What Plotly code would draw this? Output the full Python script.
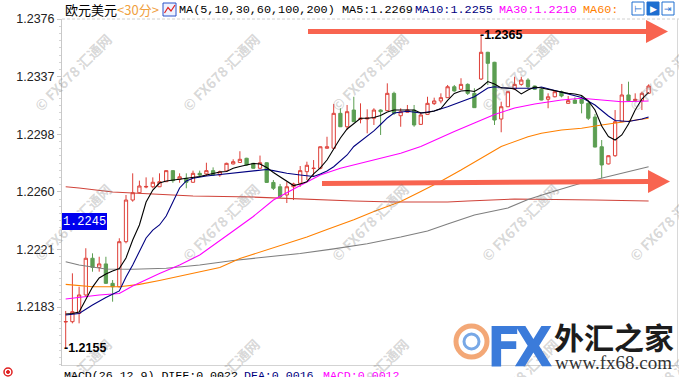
import math
import plotly.graph_objects as go

# ---------------- data (EUR/USD 30-min candles) ----------------
opens = [1.21730,1.21732,1.21788,1.21911,1.22157,1.22096,1.22119,1.21989,1.21966,1.22268,
         1.22547,1.22596,1.22634,1.22636,1.22636,1.22670,1.22744,1.22686,1.22693,1.22666,
         1.22726,1.22722,1.22744,1.22715,1.22742,1.22789,1.22799,1.22827,1.22793,1.22760,
         1.22797,1.22665,1.22636,1.22581,1.22636,1.22659,1.22737,1.22758,1.22760,1.22894,
         1.22894,1.23128,1.23038,1.23150,1.23088,1.23090,1.23095,1.23150,1.23146,1.23262,
         1.23112,1.23135,1.23150,1.23054,1.23121,1.23193,1.23211,1.23233,1.23306,1.23289,
         1.23322,1.23262,1.23358,1.23537,1.23470,1.23090,1.23172,1.23291,1.23322,1.23351,
         1.23311,1.23289,1.23222,1.23239,1.23273,1.23195,1.23217,1.23222,1.23195,1.23103,
         1.22904,1.22789,1.22844,1.23072,1.23251,1.23213,1.23213,1.23262]
highs = [1.21804,1.22056,1.21966,1.22224,1.22190,1.22167,1.22167,1.22011,1.22291,1.22581,
         1.22726,1.22677,1.22699,1.22699,1.22726,1.22746,1.22746,1.22726,1.22726,1.22744,
         1.22744,1.22797,1.22766,1.22744,1.22797,1.22820,1.22874,1.22830,1.22796,1.22845,
         1.22800,1.22681,1.22655,1.22668,1.22663,1.22775,1.22804,1.22815,1.22906,1.22971,
         1.23191,1.23162,1.23184,1.23239,1.23195,1.23155,1.23162,1.23155,1.23329,1.23273,
         1.23162,1.23184,1.23184,1.23135,1.23239,1.23233,1.23262,1.23318,1.23318,1.23363,
         1.23329,1.23296,1.23653,1.23540,1.23473,1.23206,1.23275,1.23373,1.23373,1.23363,
         1.23313,1.23296,1.23262,1.23284,1.23280,1.23244,1.23235,1.23244,1.23206,1.23124,
         1.22949,1.22846,1.23150,1.23325,1.23340,1.23262,1.23273,1.23322]
lows = [1.21555,1.21721,1.21721,1.21905,1.22067,1.22067,1.21985,1.21866,1.21962,1.22257,
        1.22536,1.22592,1.22626,1.22626,1.22634,1.22668,1.22663,1.22663,1.22626,1.22663,
        1.22703,1.22708,1.22708,1.22703,1.22737,1.22785,1.22797,1.22778,1.22757,1.22757,
        1.22662,1.22614,1.22561,1.22527,1.22547,1.22636,1.22681,1.22703,1.22753,1.22892,
        1.22892,1.23036,1.23016,1.23070,1.23061,1.22994,1.23050,1.22983,1.23144,1.23117,
        1.23038,1.23133,1.23038,1.23050,1.23119,1.23184,1.23195,1.23231,1.23273,1.23287,
        1.23251,1.23164,1.23351,1.23318,1.23050,1.23001,1.23170,1.23284,1.23313,1.23296,
        1.23284,1.23215,1.23162,1.23235,1.23235,1.23193,1.23193,1.23128,1.23083,1.22900,
        1.22693,1.22786,1.22837,1.23070,1.23206,1.23206,1.23150,1.23260]
closes = [1.21733,1.21799,1.21911,1.22157,1.22096,1.22119,1.21989,1.21966,1.22268,1.22547,
          1.22596,1.22641,1.22638,1.22666,1.22670,1.22744,1.22677,1.22703,1.22666,1.22726,
          1.22715,1.22744,1.22715,1.22737,1.22793,1.22804,1.22820,1.22782,1.22760,1.22797,
          1.22665,1.22626,1.22569,1.22636,1.22655,1.22744,1.22780,1.22760,1.22904,1.22904,
          1.23128,1.23038,1.23139,1.23072,1.23095,1.23097,1.23150,1.23139,1.23262,1.23128,
          1.23139,1.23150,1.23050,1.23117,1.23195,1.23211,1.23233,1.23306,1.23278,1.23322,
          1.23262,1.23166,1.23537,1.23463,1.23083,1.23172,1.23273,1.23322,1.23351,1.23306,
          1.23289,1.23217,1.23239,1.23273,1.23244,1.23213,1.23195,1.23195,1.23095,1.22902,
          1.22782,1.22844,1.23072,1.23251,1.23213,1.23222,1.23262,1.23311]
candle_idx = list(range(len(opens)))

ma5 = [1.21784,1.21787,1.21797,1.21877,1.21964,1.22025,1.22052,1.22072,1.22088,1.22159,
       1.22279,1.22380,1.22534,1.22614,1.22661,1.22675,1.22681,1.22685,1.22693,1.22698,
       1.22705,1.22715,1.22725,1.22735,1.22738,1.22760,1.22772,1.22782,1.22792,1.22789,
       1.22765,1.22732,1.22701,1.22671,1.22644,1.22655,1.22670,1.22722,1.22762,1.22815,
       1.22894,1.22963,1.23023,1.23061,1.23095,1.23095,1.23100,1.23113,1.23137,1.23150,
       1.23150,1.23150,1.23150,1.23130,1.23134,1.23144,1.23160,1.23214,1.23261,1.23278,
       1.23281,1.23274,1.23301,1.23341,1.23325,1.23298,1.23298,1.23291,1.23258,1.23284,
       1.23304,1.23298,1.23288,1.23278,1.23268,1.23262,1.23258,1.23247,1.23211,1.23150,
       1.23043,1.22973,1.22949,1.22983,1.23057,1.23150,1.23224,1.23268]

ma10_idx = [0,2,4,6,8,9,10,11,12,13,14,15,16,17,18,19,21,23,25,28,30,31,33,35,37,38,39,40,
            42,43,45,46,47,48,49,51,53,55,57,60,61,63,64,66,70,71,73,75,77,79,80,81,82,84,86,87]
ma10 = [1.21777,1.21787,1.21844,1.21894,1.21938,1.22031,1.22112,1.22199,1.22293,1.22346,
        1.22380,1.22440,1.22534,1.22628,1.22675,1.22693,1.22708,1.22718,1.22725,1.22744,
        1.22752,1.22744,1.22726,1.22715,1.22705,1.22722,1.22742,1.22770,1.22849,1.22906,
        1.22979,1.23010,1.23053,1.23097,1.23130,1.23142,1.23130,1.23144,1.23172,1.23224,
        1.23239,1.23298,1.23306,1.23296,1.23296,1.23304,1.23281,1.23258,1.23234,1.23184,
        1.23144,1.23110,1.23080,1.23073,1.23090,1.23103]

ma30_idx = [0,5,8,10,14,17,20,23,25,28,31,35,38,41,44,47,50,53,56,58,61,64,67,70,74,77,80,83,87]
ma30 = [1.21884,1.21911,1.21921,1.21971,1.22055,1.22112,1.22179,1.22279,1.22340,1.22437,
        1.22547,1.22644,1.22715,1.22760,1.22793,1.22827,1.22860,1.22906,1.22969,1.23006,
        1.23063,1.23120,1.23164,1.23191,1.23217,1.23229,1.23217,1.23206,1.23211]

ma60_idx = [0,4,8,11,14,17,20,23,26,30,33,36,39,43,46,50,53,56,59,62,65,69,71,74,77,80,84,87]
ma60 = [1.21982,1.21966,1.21966,1.21982,1.22008,1.22038,1.22067,1.22095,1.22155,1.22212,
        1.22257,1.22299,1.22350,1.22415,1.22470,1.22537,1.22604,1.22673,1.22748,1.22825,
        1.22906,1.22971,1.22994,1.23016,1.23028,1.23050,1.23073,1.23095]

ma100_idx = [0,2,6,10,15,20,25,30,35,40,45,50,54,57,61,66,69,73,77,81,84,87]
ma100 = [1.22134,1.22112,1.22085,1.22083,1.22090,1.22112,1.22142,1.22165,1.22189,1.22220,
         1.22254,1.22299,1.22340,1.22387,1.22447,1.22494,1.22551,1.22608,1.22661,1.22705,
         1.22735,1.22770]

ma200_idx = [0,2,7,14,19,28,35,43,49,57,60,63,67,79,85,87]
ma200 = [1.22636,1.22628,1.22601,1.22588,1.22574,1.22567,1.22554,1.22541,1.22534,1.22534,
         1.22541,1.22547,1.22554,1.22547,1.22541,1.22541]

y_tick_vals = [1.2376, 1.23374, 1.22988, 1.22602, 1.22216, 1.2183]
y_tick_text = ["1.2376", "1.2337", "1.2298", "1.2260", "1.2221", "1.2183"]

title_name = "欧元美元"
title_period = "<30分>"
ma_params = "MA(5,10,30,60,100,200)"
ma_legend = [("MA5:1.2269", "#000000", 340), ("MA10:1.2255", "#000080", 413),
             ("MA30:1.2210", "#FF00FF", 497), ("MA60:", "#FF8000", 581)]
macd_text = [("MACD(26,12,9) DIFF:0.0022", "#000000", 63), ("DEA:0.0016", "#000080", 243),
             ("MACD:0.0012", "#FF00FF", 322)]
cursor_price = "1.2245"
watermark = "© FX678 汇通网"

# ---------------- geometry helpers (decorations only) ----------------
W, H = 679, 377
ML, MR, MT, MB = 62, 0, 19, 11
PW, PH = W - ML - MR, H - MT - MB


def px(x):
    return (x - ML) / PW


def py(y):
    return (H - MB - y) / PH


RED = "#DE3F38"
GREEN = "#5C9E52"
MONO = "Liberation Mono, DejaVu Sans Mono, monospace"
CJK = "Noto Sans CJK SC, Noto Sans, sans-serif"
SANS = "Liberation Sans, Arial, sans-serif"
ARROW = "#F86450"

fig = go.Figure()

fig.add_trace(go.Candlestick(
    x=candle_idx, open=opens, high=highs, low=lows, close=closes,
    increasing=dict(line=dict(color=RED, width=1), fillcolor="white"),
    decreasing=dict(line=dict(color=GREEN, width=1), fillcolor=GREEN),
    whiskerwidth=0, hoverinfo="skip", showlegend=False))

for xs, ys, col in [(ma200_idx, ma200, "#D0433A"), (ma100_idx, ma100, "#7F7F7F"),
                    (ma60_idx, ma60, "#FF8000"), (ma30_idx, ma30, "#FF00FF"),
                    (ma10_idx, ma10, "#000080"), (candle_idx, ma5, "#000000")]:
    fig.add_trace(go.Scatter(x=xs, y=ys, mode="lines", line=dict(color=col, width=1.1),
                             hoverinfo="skip", showlegend=False))

# price range mapped so the candles sit where they do in the reference
y_top = 1.2376
y_per_px = 0.000067
y_bot = y_top - PH * y_per_px
x_per_px = 1 / 6.7
x_lo = -3.7 * x_per_px
x_hi = x_lo + PW * x_per_px

shapes = []
# frame lines
shapes.append(dict(type="line", xref="paper", yref="paper", x0=0, x1=1, y0=1, y1=1,
                   line=dict(color="#D0D0D0", width=1, dash="3px,2px")))
shapes.append(dict(type="line", xref="paper", yref="paper", x0=0, x1=1, y0=py(365.5), y1=py(365.5),
                   line=dict(color="#D3D3D3", width=1)))
shapes.append(dict(type="line", xref="paper", yref="paper", x0=px(677.5), x1=px(677.5), y0=0, y1=1,
                   line=dict(color="#D8D8D8", width=1)))
# arrows (annotation drawing)
for (xa, ya, xb, yb, hx, hy) in [(308, 31.5, 650, 31.5, 668, 31.5), (322, 183.5, 650, 181.5, 670, 181.5)]:
    shapes.append(dict(type="line", xref="paper", yref="paper", x0=px(xa), y0=py(ya), x1=px(xb), y1=py(yb),
                       line=dict(color=ARROW, width=5)))
    path = "M{},{} L{},{} L{},{} Z".format(px(hx - 22), py(hy - 11.5), px(hx - 22), py(hy + 11.5), px(hx), py(hy))
    shapes.append(dict(type="path", xref="paper", yref="paper", path=path,
                       fillcolor=ARROW, line=dict(color=ARROW, width=0)))
# small chart icon in header
shapes.append(dict(type="rect", xref="paper", yref="paper", x0=px(163), x1=px(176), y0=py(16), y1=py(3),
                   line=dict(color="#2A52C8", width=1), fillcolor="#EEF2FF"))
shapes.append(dict(type="path", xref="paper", yref="paper",
                   path="M{},{} L{},{} L{},{} L{},{}".format(px(164.5), py(13), px(168), py(7.5),
                                                             px(171), py(11), px(175), py(5)),
                   line=dict(color="#E02020", width=1.2)))
# three toolbar icons
for i, x0 in enumerate([632, 647, 662]):
    fill = "#1E6FD0" if i == 1 else "white"
    shapes.append(dict(type="rect", xref="paper", yref="paper", x0=px(x0), x1=px(x0 + 12), y0=py(15), y1=py(2),
                       line=dict(color="#1E6FD0", width=1), fillcolor=fill))
# red sun icon
shapes.append(dict(type="circle", xref="paper", yref="paper", x0=px(4), x1=px(12), y0=py(376), y1=py(368),
                   line=dict(color="#E02020", width=1.5), fillcolor="white"))
shapes.append(dict(type="circle", xref="paper", yref="paper", x0=px(6.5), x1=px(9.5), y0=py(373.5), y1=py(370.5),
                   line=dict(color="#E02020", width=1), fillcolor="#E02020"))
# logo swirl
shapes.append(dict(type="circle", xref="paper", yref="paper", x0=px(456), x1=px(487), y0=py(357), y1=py(326),
                   line=dict(color="#F3A877", width=5), fillcolor="rgba(0,0,0,0)"))
shapes.append(dict(type="circle", xref="paper", yref="paper", x0=px(464), x1=px(479), y0=py(349), y1=py(334),
                   line=dict(color="#78A8E6", width=3), fillcolor="rgba(0,0,0,0)"))

ann = []
# watermarks
for wy in [72, 222, 377]:
    for wx in [73, 221, 370, 520, 668]:
        ann.append(dict(x=px(wx), y=py(wy), xref="paper", yref="paper", text="<b>" + watermark + "</b>",
                        showarrow=False, textangle=-45,
                        font=dict(family=CJK, size=14, color="rgba(120,120,120,0.30)"),
                        xanchor="center", yanchor="middle"))
# header
ann.append(dict(x=px(63), y=py(10), xref="paper", yref="paper", text=title_name, showarrow=False,
                xanchor="left", yanchor="middle", font=dict(family=CJK, size=13, color="#000000")))
ann.append(dict(x=px(115), y=py(10), xref="paper", yref="paper", text=title_period.replace("<", "&lt;").replace(">", "&gt;"),
                showarrow=False, xanchor="left", yanchor="middle",
                font=dict(family=CJK, size=13, color="#F0A040")))
ann.append(dict(x=px(177), y=py(10), xref="paper", yref="paper", text=ma_params, showarrow=False,
                xanchor="left", yanchor="middle", font=dict(family=MONO, size=11.8, color="#000000")))
for txt, col, xx in ma_legend:
    ann.append(dict(x=px(xx), y=py(10), xref="paper", yref="paper", text=txt, showarrow=False,
                    xanchor="left", yanchor="middle", font=dict(family=MONO, size=11.8, color=col)))
# toolbar glyphs
for txt, xx, col in [("⊢", 638, "#1E6FD0"), ("▶", 653, "white"), ("⇥", 668, "#1E6FD0")]:
    ann.append(dict(x=px(xx), y=py(8.5), xref="paper", yref="paper", text=txt, showarrow=False,
                    xanchor="center", yanchor="middle", font=dict(family="DejaVu Sans", size=9, color=col)))
# footer MACD
for txt, col, xx in macd_text:
    ann.append(dict(x=px(xx), y=py(367.5), xref="paper", yref="paper", text=txt, showarrow=False,
                    xanchor="left", yanchor="top", borderpad=0,
                    font=dict(family=MONO, size=11.6, color=col)))
# high / low markers derived from the data
hi_i = max(candle_idx, key=lambda k: highs[k])
lo_i = min(candle_idx, key=lambda k: lows[k])
for k, v in [(hi_i, highs[hi_i]), (lo_i, lows[lo_i])]:
    label = "{:.4f}".format(math.floor(v * 10000) / 10000)
    ann.append(dict(x=k, y=v, xref="x", yref="y", text="<b>-" + label + "</b>", showarrow=False,
                    xanchor="left", yanchor="middle", xshift=-3.5,
                    font=dict(family=SANS, size=12.5, color="#000000")))
# cursor price box
ann.append(dict(x=0, y=py(221), xref="paper", yref="paper", text=cursor_price, showarrow=False,
                xanchor="left", yanchor="middle", bgcolor="#0000EE", borderpad=1, borderwidth=0,
                width=43, height=15, align="center",
                font=dict(family=MONO, size=12, color="white")))
# logo texts
LOGO_FONT = "Liberation Sans Narrow, DejaVu Sans Condensed, Liberation Sans"
ann.append(dict(x=px(504), y=py(346), xref="paper", yref="paper", text="<b>F</b>", showarrow=False,
                xanchor="center", yanchor="middle", font=dict(family=LOGO_FONT, size=56, color="#3B7BDA")))
ann.append(dict(x=px(533), y=py(346), xref="paper", yref="paper", text="<b>X</b>", showarrow=False,
                xanchor="center", yanchor="middle", font=dict(family=LOGO_FONT, size=56, color="#3B7BDA")))
ann.append(dict(x=px(552), y=py(336), xref="paper", yref="paper", text="<b>外汇之家</b>", showarrow=False,
                xanchor="left", yanchor="middle", font=dict(family=CJK, size=30, color="#1C1C1C")))
ann.append(dict(x=px(553), y=py(362), xref="paper", yref="paper", text="www.fx68.com", showarrow=False,
                xanchor="left", yanchor="middle", font=dict(family="Liberation Serif, serif", size=19, color="#333333")))

fig.update_layout(
    width=W, height=H, margin=dict(l=ML, r=MR, t=MT, b=MB, pad=0),
    paper_bgcolor="white", plot_bgcolor="white", hovermode=False, showlegend=False,
    xaxis=dict(range=[x_lo, x_hi], visible=False, rangeslider=dict(visible=False), fixedrange=True),
    yaxis=dict(range=[y_bot, y_top], tickmode="array", tickvals=y_tick_vals, ticktext=y_tick_text,
               showgrid=False, zeroline=False, showline=True, linecolor="#C8C8C8", linewidth=1,
               ticks="outside", ticklen=4, tickcolor="#C8C8C8",
               minor=dict(ticks="outside", ticklen=2, tickcolor="#D5D5D5", tickmode="linear",
                          tick0=1.2183, dtick=0.0004825),
               tickfont=dict(family=SANS, size=12.5, color="#222222"), fixedrange=True),
    shapes=shapes, annotations=ann,
)

fig.write_html("out.html", config={"displayModeBar": False},
               post_script="document.body.style.margin='0px';document.body.style.padding='0px';"
                           "document.body.style.overflow='hidden';")
